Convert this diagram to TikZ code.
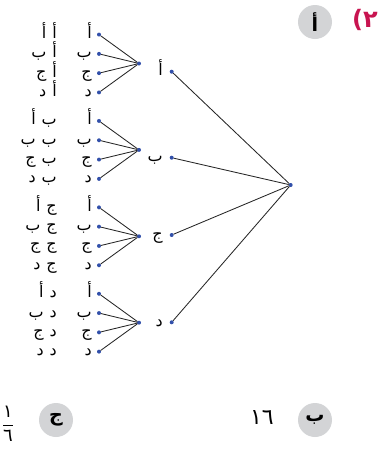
\documentclass[tikz,border=0pt]{standalone}
\usepackage{amsmath}
\usepackage{fontspec}
\usepackage{tikz}
\newfontfamily\arabicfont[Script=Arabic]{DejaVu Sans}
\newfontfamily\plainsans{DejaVu Sans}
\TeXXeTstate=1
\newcommand{\ar}[1]{{\arabicfont\beginR #1\endR}}
\usetikzlibrary{
    arrows.meta,
    positioning
}
\definecolor{dotblue}{RGB}{50,80,170}
\definecolor{partred}{RGB}{200,20,80}
\definecolor{badgegray}{RGB}{211,212,214}

\begin{document}
\begin{tikzpicture}[x=1pt, y=-1pt, line cap=round, line join=round]
  \def\xr{290.7}   % root
  \def\xa{171.7}   % first draw
  \def\xb{139}     % fan point
  \def\xc{99}      % second draw

  \tikzset{
    dot/.style={circle, fill=dotblue, inner sep=0pt, minimum size=4pt},
    branch/.style={black!85, line width=0.85pt},
    lbl/.style={anchor=base east, inner sep=0pt, font=\fontsize{16}{18}\selectfont},
    badge/.style={circle, fill=badgegray, minimum size=34pt, inner sep=0pt,
      font=\bfseries\fontsize{19}{21}\selectfont}
  }

  \useasboundingbox (0,0) rectangle (386,451);

  % Root
  \node[dot] (root) at (\xr,185) {};

  % First letter, then the fan of the second letter
  \foreach \g/\gl/\ya/\yb in {a/أ/71.7/63.5, b/ب/157.7/149.9,
                              c/ج/235/236.3, d/د/322.3/322.7} {
    \node[dot] (\g) at (\xa,\ya) {};
    \node[lbl] (\g-lbl) at (163,\ya+4) {\ar{\gl}};
    \draw[branch] (root) -- (\g);

    \node[dot] (\g0) at (\xb,\yb) {};
    \foreach \j/\ll/\dy in {1/أ/-28.95, 2/ب/-9.65, 3/ج/9.65, 4/د/28.95} {
      \node[dot] (\g\j) at (\xc,\yb+\dy) {};
      \node[lbl] (\g\j-lbl) at (92,\yb+\dy+4) {\ar{\ll}};
      \node[lbl] (\g\j-out) at (57,\yb+\dy+4) {\ar{\gl\hspace{6pt}\ll}};
      \draw[branch] (\g0) -- (\g\j);
    }
  }

  % Heading and answers
  \node[text=partred, font=\bfseries\fontsize{24}{26}\selectfont]
    (part) at (365,20) {{\plainsans(}{\arabicfont ٢}};
  \node[badge] (qa) at (315,22) {\ar{أ}};
  \node[badge] (qb) at (315,420) {\ar{ب}};
  \node[font=\fontsize{22}{24}\selectfont] (ansb) at (262,418) {\arabicfont ١٦};
  \node[badge] (qc) at (56,420) {\ar{ج}};
  \node[inner sep=0pt, font=\fontsize{18}{20}\selectfont] (ansc) at (8,424)
    {$\dfrac{\text{\arabicfont ١}}{\text{\arabicfont ٦}}$};
\end{tikzpicture}
\end{document}
